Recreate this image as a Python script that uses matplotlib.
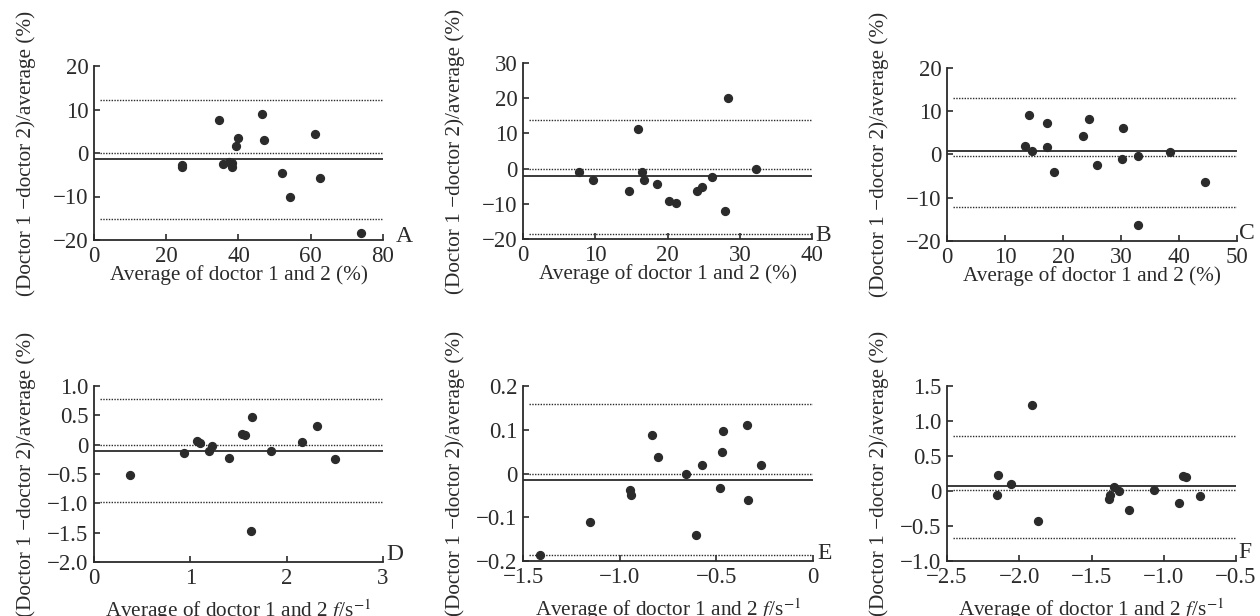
import matplotlib
matplotlib.use("Agg")
import matplotlib.pyplot as plt

plt.rcParams['font.family'] = ['Liberation Serif', 'DejaVu Serif']
plt.rcParams['mathtext.fontset'] = 'stix'
plt.rcParams['axes.unicode_minus'] = True

INK = '#2b2b2b'

# ---- data ----
a_x = [24.4, 24.4, 34.5, 35.7, 37.5, 38.2, 38.2, 39.2, 40.0, 46.4, 47.1, 52.1, 54.2, 61.3, 62.5, 73.9]
a_y = [-2.7, -3.2, 7.5, -2.6, -2.0, -2.3, -3.2, 1.6, 3.4, 9.0, 3.1, -4.7, -10.0, 4.3, -5.7, -18.4]
a_lines = [12.2, 0.0, -1.4, -15.2]   # upper LoA, zero, mean, lower LoA

b_x = [7.8, 9.7, 14.7, 15.9, 16.5, 16.7, 18.6, 20.2, 21.2, 24.1, 24.8, 26.1, 27.9, 28.4, 32.2]
b_y = [-1.0, -3.3, -6.3, 11.3, -0.9, -3.1, -4.3, -9.2, -9.8, -6.4, -5.2, -2.3, -12.1, 20.1, 0.0]
b_lines = [13.7, 0.0, -2.2, -18.6]

c_x = [13.4, 14.2, 14.7, 17.2, 17.3, 18.4, 23.4, 24.4, 25.8, 30.1, 30.3, 32.9, 32.9, 38.4, 44.4]
c_y = [1.9, 9.1, 0.8, 1.8, 7.2, -4.0, 4.3, 8.2, -2.5, -1.0, 6.1, -0.3, -16.3, 0.5, -6.3]
c_lines = [13.1, -0.3, 0.7, -12.1]

d_x = [0.37, 0.93, 1.07, 1.10, 1.19, 1.22, 1.40, 1.54, 1.57, 1.64, 1.63, 1.84, 2.16, 2.31, 2.50]
d_y = [-0.52, -0.14, 0.06, 0.03, -0.11, -0.03, -0.23, 0.19, 0.16, 0.48, -1.48, -0.10, 0.04, 0.32, -0.24]
d_lines = [0.78, 0.0, -0.10, -0.98]

e_x = [-1.41, -1.151, -0.948, -0.939, -0.831, -0.803, -0.659, -0.604, -0.574, -0.480, -0.471, -0.466, -0.341, -0.334, -0.267]
e_y = [-0.187, -0.111, -0.038, -0.049, 0.089, 0.038, 0.0, -0.140, 0.020, -0.032, 0.049, 0.097, 0.110, -0.060, 0.020]
e_lines = [0.160, 0.0, -0.014, -0.186]

f_x = [-2.144, -2.153, -2.054, -1.913, -1.873, -1.372, -1.376, -1.344, -1.309, -1.240, -1.066, -0.893, -0.868, -0.845, -0.750]
f_y = [0.224, -0.057, 0.105, 1.233, -0.424, -0.057, -0.110, 0.062, 0.0, -0.267, 0.014, -0.167, 0.214, 0.205, -0.071]
f_lines = [0.786, 0.01, 0.071, -0.671]

# tick values and labels
a_xt, a_yt = [0, 20, 40, 60, 80], [-20, -10, 0, 10, 20]
b_xt, b_yt = [0, 10, 20, 30, 40], [-20, -10, 0, 10, 20, 30]
c_xt, c_yt = [0, 10, 20, 30, 40, 50], [-20, -10, 0, 10, 20]
d_xt, d_yt = [0, 1, 2, 3], [-2.0, -1.5, -1.0, -0.5, 0, 0.5, 1.0]
d_ytl = ['\u22122.0', '\u22121.5', '\u22121.0', '\u22120.5', '0', '0.5', '1.0']
e_xt, e_yt = [-1.5, -1.0, -0.5, 0], [-0.2, -0.1, 0, 0.1, 0.2]
e_xtl = ['\u22121.5', '\u22121.0', '\u22120.5', '0']
e_ytl = ['\u22120.2', '\u22120.1', '0', '0.1', '0.2']
f_xt, f_yt = [-2.5, -2.0, -1.5, -1.0, -0.5], [-1.0, -0.5, 0, 0.5, 1.0, 1.5]
f_xtl = ['\u22122.5', '\u22122.0', '\u22121.5', '\u22121.0', '\u22120.5']
f_ytl = ['\u22121.0', '\u22120.5', '0', '0.5', '1.0', '1.5']

ylab = '(Doctor 1 \u2212doctor 2)/average (%)'
xlab_pct = 'Average of doctor 1 and 2 (%)'
xlab_f = 'Average of doctor 1 and 2 $f$/s$^{-1}$'

W, H = 1260, 616
fig = plt.figure(figsize=(W / 100, H / 100), dpi=100)

panels = [
    # letter, letter pos, box px (x0, y0, x1, y1), x, y, lines,
    # xticks, xticklabels, yticks, yticklabels, xlabel, xlabel top
    ('A', (1.045, 0.02), (94, 66, 383, 240), a_x, a_y, a_lines, a_xt, None, a_yt, None, xlab_pct, -0.145),
    ('B', (1.012, 0.02), (523, 63, 812, 239), b_x, b_y, b_lines, b_xt, None, b_yt, None, xlab_pct, -0.145),
    ('C', (1.008, 0.045), (947, 68, 1237, 241), c_x, c_y, c_lines, c_xt, None, c_yt, None, xlab_pct, -0.145),
    ('D', (1.012, 0.045), (94, 386, 383, 562), d_x, d_y, d_lines, d_xt, None, d_yt, d_ytl, xlab_f, -0.20),
    ('E', (1.014, 0.045), (523, 386, 813, 561), e_x, e_y, e_lines, e_xt, e_xtl, e_yt, e_ytl, xlab_f, -0.20),
    ('F', (1.008, 0.05), (947, 386, 1236, 561), f_x, f_y, f_lines, f_xt, f_xtl, f_yt, f_ytl, xlab_f, -0.20),
]

for letter, lpos, box, x, y, lines, xt, xtl, yt, ytl, xlab, xly in panels:
    x0, y0, x1, y1 = box
    ax = fig.add_axes([x0 / W, 1 - y1 / H, (x1 - x0) / W, (y1 - y0) / H])
    ax.set_xlim(xt[0], xt[-1])
    ax.set_ylim(yt[0], yt[-1])

    upper, zero, mean, lower = lines
    for v in (upper, zero, lower):
        ax.axhline(v, xmin=0.02, xmax=1.0, color=INK, lw=1.0, ls=(0, (1, 1)))
    ax.axhline(mean, color=INK, lw=1.3)

    ax.scatter(x, y, s=32, color=INK, zorder=3, clip_on=False)

    ax.set_xticks(xt)
    ax.set_yticks(yt)
    if xtl is not None:
        ax.set_xticklabels(xtl)
    if ytl is not None:
        ax.set_yticklabels(ytl)

    for s in ('top', 'right'):
        ax.spines[s].set_visible(False)
    for s in ('left', 'bottom'):
        ax.spines[s].set_linewidth(1.3)
        ax.spines[s].set_color(INK)
    ax.tick_params(direction='in', length=4, width=1.2, colors=INK,
                   labelsize=16.5, pad=4)

    ax.set_ylabel(ylab, fontsize=15.3, color=INK)
    ax.yaxis.set_label_coords(-0.2, 0.5)
    ax.set_xlabel(xlab, fontsize=15.3, color=INK)
    ax.xaxis.set_label_coords(0.5, xly)

    ax.text(lpos[0], lpos[1], letter, transform=ax.transAxes, fontsize=17,
            color=INK, ha='left', va='center')

fig.savefig('out.png', dpi=100)
